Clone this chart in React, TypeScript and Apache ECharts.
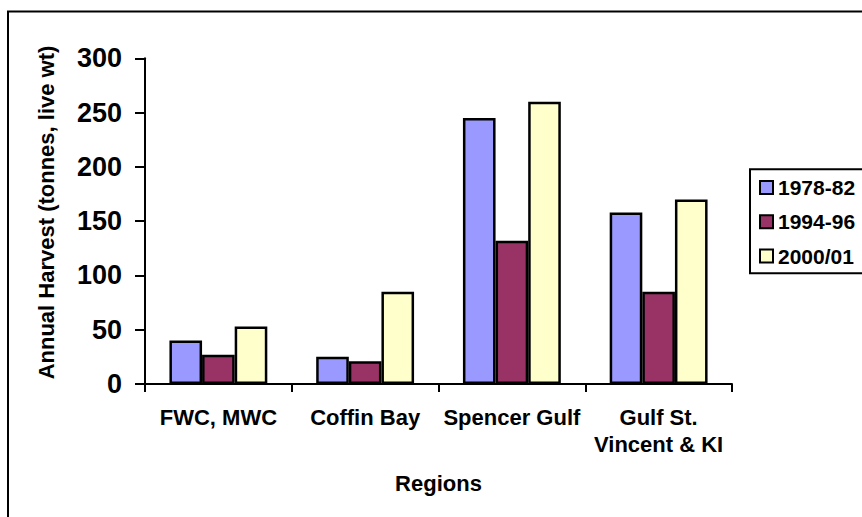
import React, { useEffect, useRef } from "react";
import * as echarts from "echarts";

const categories = ["FWC, MWC", "Coffin Bay", "Spencer Gulf", "Gulf St.\nVincent & KI"];
const seriesNames = ["1978-82", "1994-96", "2000/01"];
const values1978 = [40, 25, 245, 158];
const values1994 = [27, 21, 132, 85];
const values2000 = [53, 85, 260, 170];
const seriesColors = ["#9999FF", "#993366", "#FFFFCC"];
const yMin = 0;
const yMax = 300;
const yInterval = 50;
const xTitle = "Regions";
const yTitle = "Annual Harvest (tonnes, live wt)";

const FONT = '"Liberation Sans", Arial, Helvetica, sans-serif';

export default function App() {
  const ref = useRef<HTMLDivElement>(null);
  useEffect(() => {
    if (!ref.current) return;
    const chart = echarts.init(ref.current, undefined, { renderer: "svg" });
    const allValues = [values1978, values1994, values2000];
    chart.setOption({
      animation: false,
      backgroundColor: "#ffffff",
      textStyle: { fontFamily: FONT },
      grid: { left: 145, right: 130, top: 58.3, bottom: 133, containLabel: false },
      legend: {
        orient: "vertical",
        left: 759,
        top: 177,
        padding: 0,
        itemWidth: 13,
        itemHeight: 13,
        itemGap: 13.3,
        icon: "rect",
        itemStyle: { borderColor: "#000", borderWidth: 2 },
        textStyle: { fontSize: 21, fontWeight: "bold", color: "#000", fontFamily: FONT, lineHeight: 21 },
        data: seriesNames,
      },
      xAxis: {
        type: "category",
        data: categories,
        axisLine: { show: true, lineStyle: { color: "#000", width: 2 } },
        axisTick: { show: true, length: 8, inside: false, lineStyle: { color: "#000", width: 2 } },
        axisLabel: {
          interval: 0,
          fontSize: 22,
          fontWeight: "bold",
          color: "#000",
          fontFamily: FONT,
          lineHeight: 27,
          margin: 20,
        },
        name: xTitle,
        nameLocation: "middle",
        nameGap: 88,
        nameTextStyle: { fontSize: 22, fontWeight: "bold", color: "#000", fontFamily: FONT },
      },
      yAxis: {
        type: "value",
        min: yMin,
        max: yMax,
        interval: yInterval,
        axisLine: { show: true, lineStyle: { color: "#000", width: 2 } },
        axisTick: { show: true, length: 10, inside: false, lineStyle: { color: "#000", width: 2 } },
        axisLabel: { fontSize: 27, fontWeight: "bold", color: "#000", fontFamily: FONT, margin: 23 },
        splitLine: { show: false },
      },
      series: seriesNames.map((name, i) => ({
        name,
        type: "bar",
        data: allValues[i],
        barGap: "0%",
        barCategoryGap: "33.3%",
        itemStyle: { color: seriesColors[i], borderColor: "#000", borderWidth: 2.5 },
      })),
      graphic: [
        {
          type: "rect",
          silent: true,
          shape: { x: 8, y: 11.5, width: 900, height: 600 },
          style: { fill: "none", stroke: "#000", lineWidth: 2 },
        },
        {
          type: "rect",
          silent: true,
          shape: { x: 750, y: 169.3, width: 130, height: 104 },
          style: { fill: "none", stroke: "#000", lineWidth: 2 },
        },
        {
          type: "text",
          silent: true,
          x: 46.7,
          y: 212.5,
          rotation: Math.PI / 2,
          style: {
            text: yTitle,
            fontSize: 22,
            fontWeight: "bold",
            fontFamily: FONT,
            fill: "#000",
            align: "center",
            verticalAlign: "middle",
          },
        },
      ],
    });
    return () => chart.dispose();
  }, []);
  return (
    <div
      ref={ref}
      style={{ position: "absolute", left: 0, top: 0, width: 862, height: 517, background: "#fff" }}
    />
  );
}
